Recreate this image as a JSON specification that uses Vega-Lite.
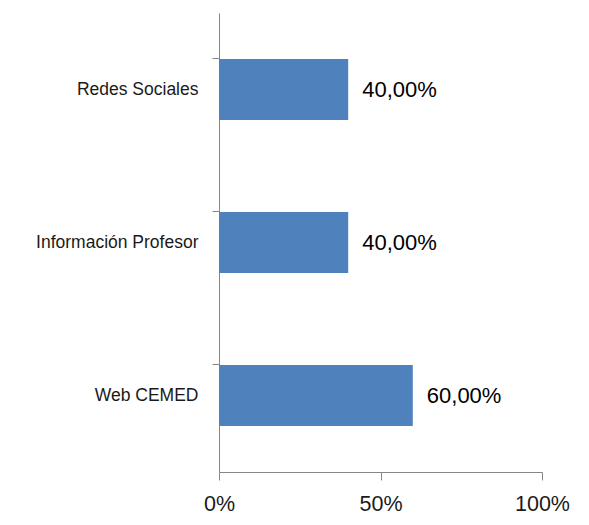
{
  "$schema": "https://vega.github.io/schema/vega-lite/v6.json",
  "autosize": "none",
  "padding": {"left": 219, "top": 13, "right": 47, "bottom": 53},
  "width": 323,
  "height": 459,
  "background": "white",
  "data": {"values": [
    {"cat": "Redes Sociales", "v": 0.4, "lbl": "40,00%"},
    {"cat": "Información Profesor", "v": 0.4, "lbl": "40,00%"},
    {"cat": "Web CEMED", "v": 0.6, "lbl": "60,00%"}
  ]},
  "config": {"view": {"stroke": null}, "font": "Liberation Sans"},
  "encoding": {
    "y": {"field": "cat", "type": "nominal", "sort": null, "title": null,
      "scale": {"paddingInner": 0.6, "paddingOuter": 0.3},
      "axis": {"bandPosition": 0, "domainColor": "#868686", "tickColor": "#868686", "tickSize": 7, "labelPadding": 14, "labelFontSize": 17.5, "labelColor": "#1a1a1a", "labelFont": "Liberation Sans", "grid": false}},
    "x": {"field": "v", "type": "quantitative", "title": null,
      "scale": {"domain": [0, 1], "nice": false},
      "axis": {"values": [0, 0.5, 1], "format": ".0%", "domainColor": "#868686", "tickColor": "#868686", "tickSize": 8, "labelPadding": 13, "labelFontSize": 21.5, "labelColor": "#1a1a1a", "labelFont": "Liberation Sans", "grid": false, "labelFlush": false}}
  },
  "layer": [
    {"mark": {"type": "bar", "color": "#4f81bd"}},
    {"mark": {"type": "text", "align": "left", "dx": 14, "fontSize": 22, "color": "#000000", "font": "Liberation Sans"},
     "encoding": {"text": {"field": "lbl"}}}
  ]
}
